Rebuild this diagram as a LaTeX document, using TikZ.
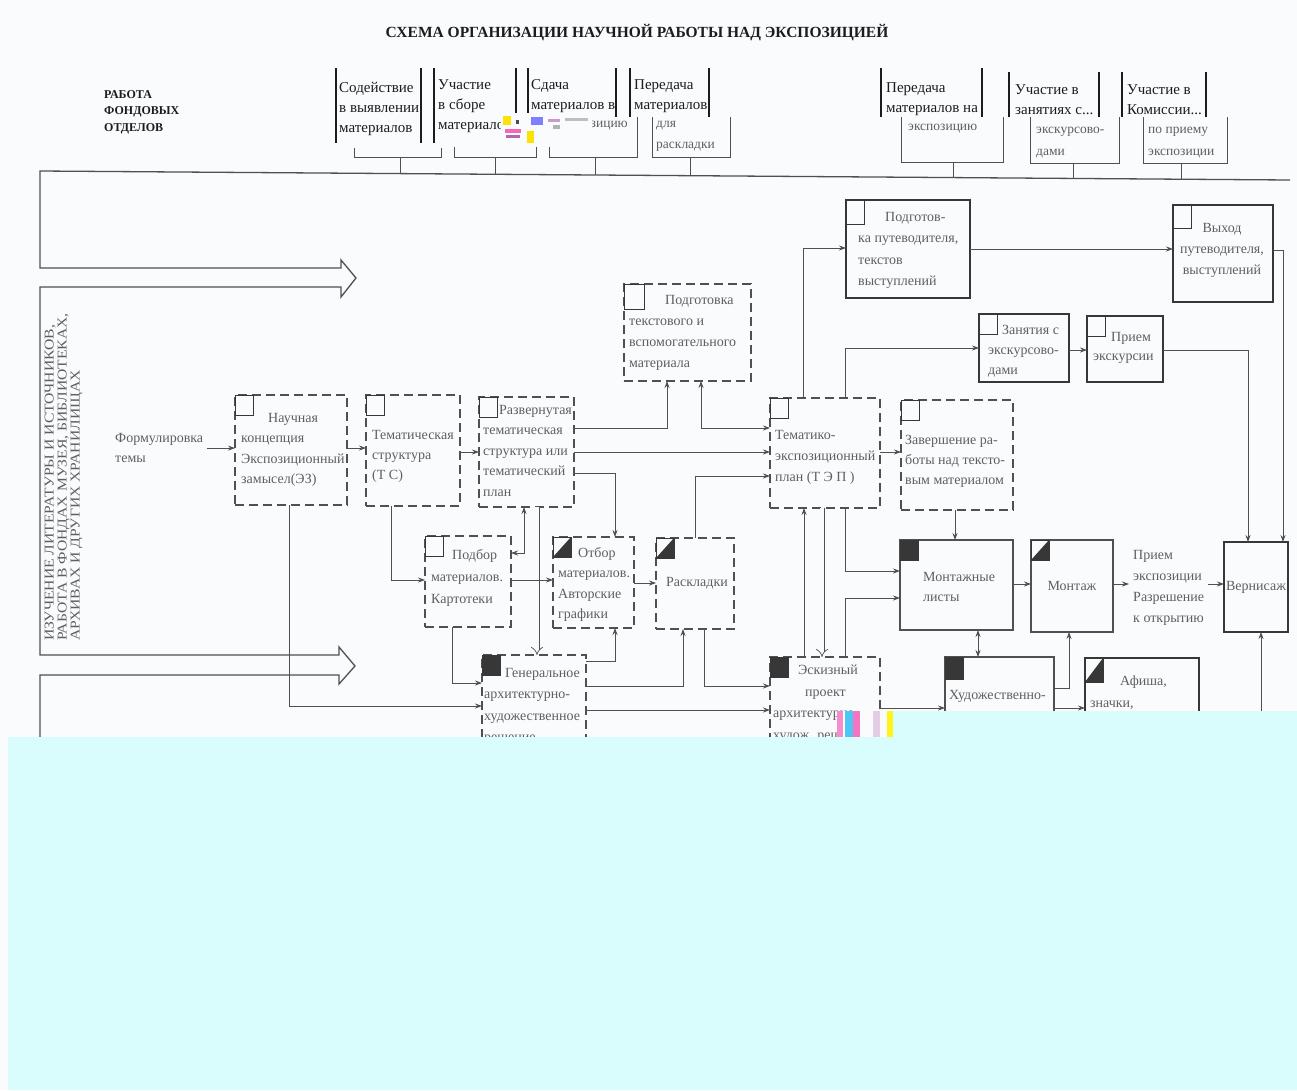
\documentclass[tikz,border=0pt]{standalone}
\usepackage{fontspec}
\setmainfont{Liberation Serif}
\usetikzlibrary{arrows.meta}
\definecolor{ln}{RGB}{80,80,80}
\definecolor{tx}{RGB}{95,95,95}
\definecolor{hd}{RGB}{28,28,28}
\definecolor{dk}{RGB}{55,55,55}
\definecolor{bg}{RGB}{249,251,253}
\definecolor{cy}{RGB}{217,252,252}
\begin{document}
\begin{tikzpicture}[x=1pt,y=-1pt,
  box/.style={inner sep=0pt, outer sep=0pt, anchor=north west},
  dbox/.style={box, draw=ln, line width=1.4pt, dash pattern=on 9pt off 5pt},
  sbox/.style={box, draw=ln, line width=1.8pt},
  tbox/.style={box, draw=dk, line width=2.8pt},
  sqe/.style={box, draw=dk, line width=1pt, minimum width=18pt, minimum height=20pt},
  sqf/.style={sqe, fill=dk},
  sqh/.style={sqe, path picture={\fill[dk] (path picture bounding box.south west) -- (path picture bounding box.north east) -- (path picture bounding box.south east) -- cycle;}},
  bt/.style={inner sep=0pt, anchor=north west, align=left, text=tx, font=\fontsize{14}{20.5}\selectfont},
  ht/.style={inner sep=0pt, anchor=north west, align=left, text=hd, font=\fontsize{15}{20}\selectfont},
  lt/.style={inner sep=0pt, anchor=north west, align=left, text=tx, font=\fontsize{13.5}{21}\selectfont},
  arr/.style={draw=ln, line width=0.8pt, -{Stealth[length=7pt,width=5pt]}},
  arrb/.style={draw=ln, line width=0.8pt, {Stealth[length=7pt,width=5pt]}-{Stealth[length=7pt,width=5pt]}},
  dbl/.style={draw=ln, line width=0.7pt, double=bg, double distance=3.6pt, -{Implies}},
  big/.style={draw=ln, line width=1.3pt, line join=miter},
  thl/.style={draw=ln, line width=0.8pt},
  hv/.style={draw=hd, line width=2.2pt},
  tb/.style={box, fill=bg}
]
\useasboundingbox (0,0) rectangle (1297,1090);
\fill[bg] (0,0) rectangle (1297,1090);

% title and left header
\node[font=\bfseries\fontsize{15.5}{18}\selectfont, text=hd, inner sep=0pt] (title) at (637,33) {СХЕМА ОРГАНИЗАЦИИ НАУЧНОЙ РАБОТЫ НАД ЭКСПОЗИЦИЕЙ};
\node[inner sep=0pt, anchor=north west, align=left, text=hd, font=\bfseries\fontsize{12}{16.5}\selectfont] (fond) at (104,90) {РАБОТА\\ФОНДОВЫХ\\ОТДЕЛОВ};

% header items
\node[ht] (h1) at (339,82) {Содействие\\в выявлении\\материалов};
\node[ht] (h2) at (438,79) {Участие\\в сборе\\материалов};
\node[ht] (h3) at (531,79) {Сдача\\материалов в};
\node[ht] (h4) at (634,79) {Передача\\материалов};
\node[ht] (h5) at (886,82) {Передача\\материалов на};
\node[ht] (h6) at (1015,84) {Участие в\\занятиях с...};
\node[ht] (h7) at (1127,84) {Участие в\\Комиссии...};
\draw[hv] (336,68) -- (336,143); \draw[hv] (421,68) -- (421,143);
\draw[hv] (434,68) -- (434,143); \draw[hv] (516,68) -- (516,143);
\draw[hv] (528,68) -- (528,143); \draw[hv] (616,68) -- (616,143);
\draw[hv] (630,68) -- (630,117); \draw[hv] (709,68) -- (709,117);
\draw[hv] (881,68) -- (881,117); \draw[hv] (982,68) -- (982,117);
\draw[hv] (1009,72) -- (1009,117); \draw[hv] (1099,72) -- (1099,117);
\draw[hv] (1122,72) -- (1122,117); \draw[hv] (1206,72) -- (1206,117);

% thin lower boxes
\node[tb, minimum width=87pt, minimum height=9pt] (t1) at (354,148) {};
\node[tb, minimum width=82pt, minimum height=10pt] (t2) at (454,147) {};
\node[tb, minimum width=88pt, minimum height=40pt] (t3) at (549,117) {};
\node[tb, minimum width=78pt, minimum height=40pt] (t4) at (652,117) {};
\node[tb, minimum width=102pt, minimum height=45pt] (t5) at (901,117) {};
\node[tb, minimum width=89pt, minimum height=46pt] (t6) at (1030,117) {};
\node[tb, minimum width=84pt, minimum height=46pt] (t7) at (1143,117) {};
\foreach \t in {t1,t2,t4,t5,t6,t7}
  \draw[thl] (\t.north west) -- (\t.south west) -- (\t.south east) -- (\t.north east);
\draw[thl] (t3.south west) ++(0,-14) -- (t3.south west) -- (t3.south east) -- (t3.north east);
\node[lt, anchor=north east] (t3a) at (628,121) {экспозицию};
\node[lt] (t4a) at (656,121) {для\\раскладки};
\node[lt] (t5a) at (908,124) {экспозицию};
\node[lt, font=\fontsize{13.5}{22}\selectfont] (t6a) at (1036,127) {экскурсово-\\дами};
\node[lt, font=\fontsize{13.5}{22}\selectfont] (t7a) at (1148,127) {по приему\\экспозиции};

% artifact near header 2/3
\fill[bg] (501,113) rectangle (592,147);
\fill[yellow!85!orange] (503,116) rectangle (511,125);
\fill[yellow!85!orange] (527,131) rectangle (534,143);
\fill[magenta!60] (505,129) rectangle (521,133);
\fill[violet!60] (506,135) rectangle (520,138);
\fill[blue!50] (531,117) rectangle (543,125);
\fill[violet!40] (548,119) rectangle (560,122);
\fill[gray!60] (553,125) rectangle (560,129);
\fill[gray!50] (565,118) rectangle (588,121);
\fill[black!70] (516,120) rectangle (519,124);

% stems and main line
\draw[thl] (t1.south -| 400,0) -- (400,173.6);
\draw[thl] (t2.south -| 495,0) -- (495,174.3);
\draw[thl] (t3.south -| 595,0) -- (595,175.0);
\draw[thl] (t4.south -| 690,0) -- (690,175.7);
\draw[thl] (t5.south -| 953,0) -- (953,177.6);
\draw[thl] (t6.south -| 1073,0) -- (1073,178.4);
\draw[thl] (t7.south -| 1181,0) -- (1181,179.2);
\draw[big] (1290,180) -- (40,171) -- (40,268) -- (341,268) -- (341,260) -- (356,278) -- (341,297) -- (341,287) -- (40,287) -- (40,655) -- (339,655) -- (339,647) -- (355,666) -- (339,684) -- (339,675) -- (40,675) -- (40,745);

% vertical text
\node[rotate=90, xscale=1.16, anchor=north west, align=left, inner sep=0pt, text=tx, font=\fontsize{13.5}{13}\selectfont] (vt) at (44.5,641) {ИЗУЧЕНИЕ ЛИТЕРАТУРЫ И ИСТОЧНИКОВ,\\РАБОТА В ФОНДАХ МУЗЕЯ, БИБЛИОТЕКАХ,\\АРХИВАХ И ДРУГИХ ХРАНИЛИЩАХ};

% boxes
\node[dbox,minimum width=112pt,minimum height=110pt] (B) at (235,395) {};
\node[dbox,minimum width=94pt,minimum height=111pt] (C) at (366,395) {};
\node[dbox,minimum width=95pt,minimum height=110pt] (D) at (479,397) {};
\node[dbox,minimum width=127pt,minimum height=97pt] (E) at (624,284) {};
\node[dbox,minimum width=110pt,minimum height=110pt] (F) at (770,398) {};
\node[dbox,minimum width=86pt,minimum height=91pt] (G) at (425,536) {};
\node[dbox,minimum width=81pt,minimum height=91pt] (H) at (553,537) {};
\node[dbox,minimum width=78pt,minimum height=91pt] (I) at (656,538) {};
\node[dbox,minimum width=104pt,minimum height=110pt] (J) at (482,655) {};
\node[dbox,minimum width=110pt,minimum height=110pt] (K) at (770,657) {};
\node[dbox,minimum width=112pt,minimum height=110pt] (L) at (901,400) {};
\node[sbox,minimum width=113pt,minimum height=90pt] (M) at (900,540) {};
\node[tbox,minimum width=124pt,minimum height=98pt] (N) at (846,200) {};
\node[tbox,minimum width=100pt,minimum height=97pt] (P) at (1173,205) {};
\node[tbox,minimum width=90pt,minimum height=68pt] (O) at (979,314) {};
\node[tbox,minimum width=76pt,minimum height=66pt] (Q) at (1087,316) {};
\node[sbox,minimum width=82pt,minimum height=92pt] (R) at (1031,540) {};
\node[tbox,minimum width=64pt,minimum height=90pt] (S) at (1224,542) {};
\node[sbox,minimum width=109pt,minimum height=100pt] (T) at (945,657) {};
\node[tbox,minimum width=114pt,minimum height=100pt] (U) at (1085,658) {};

% corner squares
\node[sqe] (Bs) at (B.north west) {};
\node[sqe] (Cs) at (C.north west) {};
\node[sqe] (Ds) at (D.north west) {};
\node[sqe, minimum width=20pt, minimum height=25pt] (Es) at (E.north west) {};
\node[sqe] (Fs) at (F.north west) {};
\node[sqe] (Gs) at (G.north west) {};
\node[sqh] (Hs) at (H.north west) {};
\node[sqh] (Is) at (I.north west) {};
\node[sqf] (Js) at (J.north west) {};
\node[sqf] (Ks) at (K.north west) {};
\node[sqe] (Ls) at (L.north west) {};
\node[sqf] (Ms) at (M.north west) {};
\node[sqe, minimum height=24pt] (Ns) at (N.north west) {};
\node[sqe, minimum height=23pt] (Ps) at (P.north west) {};
\node[sqe] (Os) at (O.north west) {};
\node[sqe] (Qs) at (Q.north west) {};
\node[sqh] (Rs) at (R.north west) {};
\node[sqf, minimum height=22pt] (Ts) at (T.north west) {};
\node[sqh, minimum height=24pt] (Us) at (U.north west) {};

% texts
\node[bt] (form) at (115,433) {Формулировка\\темы};
\node[bt] (Bt) at (241,413) {\hspace*{27pt}Научная\\концепция\\Экспозиционный\\замысел(ЭЗ)};
\node[bt, font=\fontsize{14}{20}\selectfont] (Ct) at (372,430) {Тематическая\\структура\\(Т С)};
\node[bt] (Dt) at (483,405) {\hspace*{16pt}Развернутая\\тематическая\\структура или\\тематический\\план};
\node[bt, font=\fontsize{14}{21}\selectfont] (Et) at (629,295) {\hspace*{36pt}Подготовка\\текстового и\\вспомогательного\\материала};
\node[bt, font=\fontsize{14}{21}\selectfont] (Ft) at (775,430) {Тематико-\\экспозиционный\\план (Т Э П )};
\node[bt, font=\fontsize{14}{22}\selectfont] (Gt) at (431,549) {\hspace*{21pt}Подбор\\материалов.\\Картотеки};
\node[bt] (Ht) at (558,547) {\hspace*{20pt}Отбор\\материалов.\\Авторские\\графики};
\node[bt, anchor=center] (It) at (697,583) {Раскладки};
\node[bt, font=\fontsize{14}{21.5}\selectfont] (Jt) at (484,668) {\hspace*{21pt}Генеральное\\архитектурно-\\художественное\\решение};
\node[bt, font=\fontsize{14}{21.5}\selectfont] (Kt) at (773,665) {\hspace*{25pt}Эскизный\\\hspace*{32pt}проект\\архитектурно-\\худож. решение};
\node[bt, font=\fontsize{14}{20}\selectfont] (Lt) at (905,435) {Завершение ра-\\боты над тексто-\\вым материалом};
\node[bt, font=\fontsize{14}{20}\selectfont] (Mt) at (923,572) {Монтажные\\листы};
\node[bt, anchor=center] (Rt) at (1072,586) {Монтаж};
\node[bt, inner xsep=4pt, font=\fontsize{14}{21}\selectfont] (prm) at (1129,550) {Прием\\экспозиции\\Разрешение\\к открытию};
\node[bt, anchor=center] (St) at (1256,587) {Вернисаж};
\node[bt] (Tt) at (949,690) {Художественно-};
\node[bt, font=\fontsize{14}{22}\selectfont] (Ut) at (1090,676) {\hspace*{30pt}Афиша,\\значки,};
\node[bt, font=\fontsize{14}{21.5}\selectfont] (Nt) at (858,212) {\hspace*{27pt}Подготов-\\ка путеводителя,\\текстов\\выступлений};
\node[bt, anchor=center, align=center, font=\fontsize{14}{21}\selectfont] (Pt) at (1222,250) {Выход\\путеводителя,\\выступлений};
\node[bt, font=\fontsize{14}{20}\selectfont] (Ot) at (988,325) {\hspace*{14pt}Занятия с\\экскурсово-\\дами};
\node[bt, font=\fontsize{14}{19}\selectfont] (Qt) at (1093,332) {\hspace*{18pt}Прием\\экскурсии};

% connectors
\draw[arr] ([xshift=4pt]form.east) -- (B.west |- form.east);
\draw[arr] (B.east |- 0,448) -- (C.west |- 0,448);
\draw[arr] (C.east |- 0,452) -- (D.west |- 0,452);
\draw[arr] (D.east |- 0,428) -| (E.south -| 667,0);
\draw[arrb] (E.south -| 701,0) |- (F.west |- 0,428);
\draw[arr] (D.east |- 0,452) -- (F.west |- 0,452);
\draw[arr] (D.east |- 0,473) -| (H.north -| 615,0);
\draw[arr] (C.south -| 391,0) |- (G.west |- 0,580);
\draw[arrb] (G.east |- 0,553) -| (D.south -| 524,0);
\draw[dbl] (D.south -| 537,0) -- (J.north -| 537,0);
\draw[arr] (G.east |- 0,580) -- (H.west |- 0,580);
\draw[arr] (H.east |- 0,583) -- (I.west |- 0,583);
\draw[arr] (I.north -| 695,0) |- (F.west |- 0,476);
\draw[arr] (G.south -| 452,0) |- (J.west |- 0,683);
\draw[arr] (B.south -| 289,0) |- (J.west |- 0,706);
\draw[arr] (J.east |- 0,661) -| (H.south -| 615,0);
\draw[arr] (J.east |- 0,686) -| (I.south -| 683,0);
\draw[arr] (J.east |- 0,710) -- (K.west |- 0,710);
\draw[arr] (I.south -| 704,0) |- (K.west |- 0,686);
\draw[arr] (K.north -| 804,0) -- (F.south -| 804,0);
\draw[dbl] (F.south -| 822,0) -- (K.north -| 822,0);
\draw[arr] (K.north -| 845,0) |- (M.west |- 0,598);
\draw[arr] (F.south -| 845,0) |- (M.west |- 0,571);
\draw[arr] (F.east |- 0,452) -- (L.west |- 0,452);
\draw[arr] (L.south -| 955,0) -- (M.north -| 955,0);
\draw[arr] (F.north -| 803,0) |- (N.west |- 0,248);
\draw[arr] (F.north -| 845,0) |- (O.west |- 0,348);
\draw[arr] (N.east |- 0,249) -- (P.west |- 0,249);
\draw[arr] (P.east |- 0,250) -| (S.north -| 1283,0);
\draw[arr] (O.east |- 0,350) -- (Q.west |- 0,350);
\draw[arr] (Q.east |- 0,350) -| (S.north -| 1248,0);
\draw[arr] (M.east |- 0,584) -- (R.west |- 0,584);
\draw[arr] (R.east |- 0,584) -- (prm.west |- 0,584);
\draw[arr] (prm.east |- 0,584) -- (S.west |- 0,584);
\coordinate (sb) at (1261,745);
\draw[arr] (sb) -- (S.south -| sb);
\draw[arrb] (M.south -| 978,0) -- (T.north -| 978,0);
\draw[arr] (T.east |- 0,688) -| (R.south -| 1069,0);
\draw[arr] (K.east |- 0,708) -- (T.west |- 0,708);
\draw[arr] (T.east |- 0,708) -- (U.west |- 0,708);

% scan overlay
\fill[cy] (8,1090) -- (8,737) -- (893,737) -- (893,711) -- (1297,711) -- (1297,1090) -- cycle;
\fill[bg] (837,711) rectangle (893,737);
\fill[magenta!45] (837,711) rectangle (843,737);
\fill[cyan!70] (845,711) rectangle (853,737);
\fill[magenta!55] (853,711) rectangle (860,737);
\fill[violet!20] (873,711) rectangle (880,737);
\fill[yellow!90] (887,711) rectangle (893,737);
\end{tikzpicture}
\end{document}
